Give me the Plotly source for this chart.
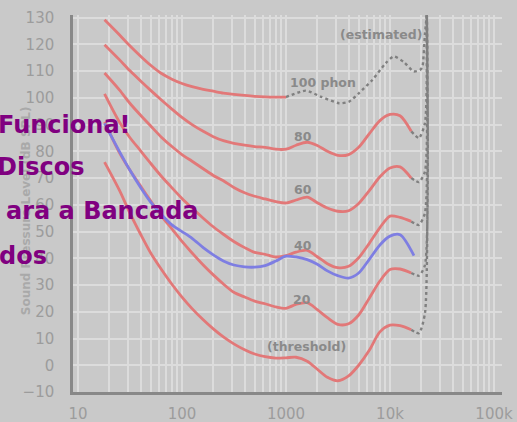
import math
import plotly.graph_objects as go

# ---------------- data ----------------
freq = [18, 25, 31.5, 40, 50, 63, 80, 100, 125, 160, 200, 250, 315, 400, 500, 630,
        800, 1000, 1250, 1600, 2000, 2500, 3150, 4000, 5000, 6300, 8000, 10000, 12500, 16000]

phon100 = [129.2, 123.6, 119.5, 115.6, 112.2, 109.2, 107.0, 105.4, 104.2, 103.2, 102.5,
           101.8, 101.3, 100.9, 100.6, 100.4, 100.3, 100.3]
phon100_est_freq = [1000, 1550, 2150, 3240, 4040, 5040, 6760, 9100, 10900, 13500, 16900,
                    19500, 20500, 21700, 22600]
phon100_est = [100.3, 102.7, 100.5, 98.0, 98.6, 101.8, 106.7, 113.0, 115.5, 113.5, 109.9,
               110.5, 111.7, 124.0, 131.0]

phon80 = [119.9, 114.3, 110.2, 106.3, 102.8, 99.3, 95.8, 92.7, 90.0, 87.5, 85.5, 84.0, 83.0,
          82.3, 81.8, 81.5, 80.8, 80.8, 82.3, 83.4, 82.2, 80.0, 78.5, 78.8, 81.5, 86.5,
          91.5, 93.8, 93.3, 87.5]
phon60 = [109.3, 103.0, 98.0, 93.5, 89.5, 85.4, 81.8, 78.8, 76.3, 73.5, 71.0, 69.0, 66.5,
          64.5, 63.2, 62.2, 61.2, 60.7, 61.8, 62.9, 60.8, 58.8, 57.6, 57.8, 60.5, 65.2,
          70.5, 73.8, 74.2, 70.0]
phon40 = [101.5, 91.0, 85.2, 80.2, 75.5, 70.8, 66.4, 62.4, 58.8, 55.0, 51.8, 49.0, 46.3,
          44.0, 42.2, 41.5, 40.5, 41.0, 42.3, 43.0, 40.6, 38.0, 36.5, 37.0, 40.2, 45.5,
          51.5, 55.8, 55.3, 53.8]
phon20 = [91.0, 79.5, 73.0, 67.0, 61.5, 56.0, 51.0, 46.3, 42.0, 37.5, 33.8, 30.4, 27.3,
          25.5, 24.0, 23.0, 21.8, 21.3, 22.8, 23.4, 20.8, 17.8, 15.3, 15.5, 18.8, 25.0,
          31.5, 35.8, 36.0, 34.5]
threshold = [76.0, 65.5, 57.0, 49.0, 42.0, 36.0, 30.3, 25.5, 21.2, 17.0, 13.6, 10.6, 8.0,
             5.8, 4.2, 3.2, 2.7, 2.8, 3.0, 1.5, -1.5, -4.5, -5.8, -4.0, 0.0, 5.5, 12.5,
             15.0, 14.8, 13.3]

iso_old_freq = freq[:-1] + [17000]
iso_old_40 = [90.5, 80.0, 73.0, 66.5, 61.0, 56.5, 52.5, 50.0, 47.5, 44.0, 41.3, 39.0, 37.5,
              36.8, 36.7, 37.3, 39.0, 40.8, 40.5, 39.5, 37.8, 35.3, 33.5, 32.6, 34.5, 39.5,
              45.0, 48.3, 48.8, 41.0]

tail_freq = [16000, 19000, 21700, 22600]
tail80 = [87.5, 85.0, 90.6, 131.0]
tail60 = [70.0, 68.5, 72.5, 131.0]
tail40 = [53.8, 52.5, 57.0, 131.0]
tail20 = [34.5, 33.5, 37.5, 131.0]
tail_thr = [13.3, 12.0, 19.5, 131.0]

x_tickvals = [10, 100, 1000, 10000, 100000]
x_ticktext = ["10", "100", "1000", "10k", "100k"]
y_tickvals = list(range(-10, 131, 10))

labels = [("(estimated)", 8180, 123.6), ("100 phon", 2270, 105.6), ("80", 1455, 85.4),
          ("60", 1455, 65.9), ("40", 1455, 44.9), ("20", 1425, 24.7),
          ("(threshold)", 1590, 7.1)]
overlay_text = [("Funciona!", 90.0), ("Discos", 74.0), ("ara a Bancada", 57.7), ("dos", 41.0)]
overlay_right_px = [133, 86, 201, 49]

# ---------------- styles ----------------
BG = "#c9c9c9"
GRID = "#dcdcdc"
RED = "#e27878"
BLUE = "#7e7ee2"
DOT = "#808080"

fig = go.Figure()

def red(x, y):
    fig.add_trace(go.Scatter(x=x, y=y, mode="lines",
                             line=dict(color=RED, width=2.8, shape="spline", smoothing=0.8),
                             hoverinfo="skip", showlegend=False))

def dotted(x, y):
    fig.add_trace(go.Scatter(x=x, y=y, mode="lines",
                             line=dict(color=DOT, width=2.4, dash="dot", shape="spline", smoothing=0.6),
                             hoverinfo="skip", showlegend=False, cliponaxis=True))

dotted(phon100_est_freq, phon100_est)
for t in (tail80, tail60, tail40, tail20, tail_thr):
    dotted(tail_freq, t)

red(freq[:18], phon100)
for c in (phon80, phon60, phon40, phon20, threshold):
    red(freq, c)

fig.add_trace(go.Scatter(x=iso_old_freq, y=iso_old_40, mode="lines",
                         line=dict(color=BLUE, width=2.8, shape="spline", smoothing=0.8),
                         hoverinfo="skip", showlegend=False))

for txt, fx, db in labels:
    fig.add_annotation(x=math.log10(fx), y=db, text=f"<b>{txt}</b>", showarrow=False,
                       font=dict(family="DejaVu Sans", size=12.5, color="#8a8a8a"))

# y-axis title
fig.add_annotation(xref="paper", yref="paper", x=(17 - 73) / 429, y=(391.7 - 211) / 376.7,
                   text="<b>Sound Pressure Level (dB SPL)</b>", textangle=-90, showarrow=False,
                   font=dict(family="DejaVu Sans", size=12, color="#a9a9a9"))

for (txt, db), px in zip(overlay_text, overlay_right_px):
    fig.add_annotation(xref="paper", yref="y", x=(px - 73) / 429, y=db, xanchor="right",
                       text=f"<b>{txt}</b>", showarrow=False,
                       font=dict(family="DejaVu Sans", size=24, color="#800080"))

minor_vals = [m * 10 ** e for e in range(1, 5) for m in range(2, 10)]

fig.update_layout(
    width=517, height=422,
    margin=dict(l=73, r=15, t=15, b=30, autoexpand=False),
    paper_bgcolor=BG, plot_bgcolor=BG,
    xaxis=dict(type="log", range=[0.952, 5.077], tickvals=x_tickvals, ticktext=x_ticktext,
               automargin=False,
               showgrid=True, gridcolor=GRID, gridwidth=1.6,
               minor=dict(tickvals=minor_vals, showgrid=True, gridcolor=GRID, gridwidth=1.6),
               showline=True, linecolor="#888888", linewidth=2.5, zeroline=False,
               ticks="", ticklabelstandoff=6,
               tickfont=dict(family="DejaVu Sans", size=15, color="#9c9c9c")),
    yaxis=dict(range=[-10, 131], tickvals=y_tickvals, showgrid=True, gridcolor=GRID, gridwidth=2,
               automargin=False,
               showline=True, linecolor="#888888", linewidth=2.5, zeroline=False,
               ticks="", ticklabelstandoff=13,
               tickfont=dict(family="DejaVu Sans", size=15, color="#9c9c9c")),
)

fig.write_html("out.html",
               config={"displayModeBar": False},
               post_script="document.body.style.margin='0px';"
                           "document.body.style.overflow='hidden';"
                           "document.body.style.background='#c9c9c9';")
